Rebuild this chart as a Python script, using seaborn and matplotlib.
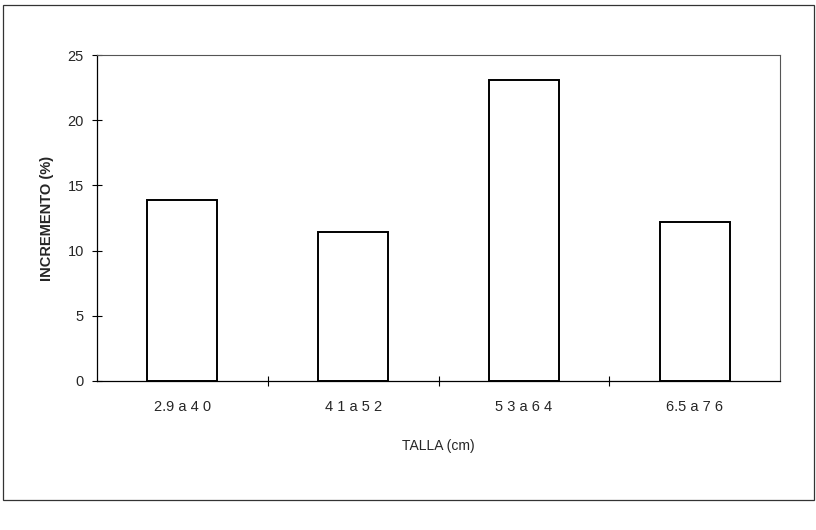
import matplotlib
matplotlib.use("Agg")
import matplotlib.pyplot as plt
import seaborn as sns
import pandas as pd
from matplotlib.patches import Rectangle

# values
tallas = ["2.9 a 4 0", "4 1 a 5 2", "5 3 a 6 4", "6.5 a 7 6"]
incremento = [13.9, 11.4, 23.1, 12.2]
y_ticks = [0, 5, 10, 15, 20, 25]

df = pd.DataFrame({"talla": tallas, "incremento": incremento})

sns.set_style("white")
plt.rcParams["font.family"] = ["Liberation Sans", "DejaVu Sans"]

fig = plt.figure(figsize=(8.16, 5.30), dpi=100)
ax = fig.add_axes([97 / 816, 149 / 530, 683 / 816, 326 / 530])

sns.barplot(data=df, x="talla", y="incremento", ax=ax, color="white",
            edgecolor="black", linewidth=1.4, width=0.41, saturation=1)

ax.set_ylim(0, 25)
ax.set_xlim(-0.5, 3.5)
ax.set_yticks(y_ticks)
ax.set_yticklabels([str(t) for t in y_ticks], fontsize=10.5)
ax.tick_params(axis="y", left=True, direction="inout", length=7, width=0.8,
               pad=6, color="black")

# category ticks sit between bars, like the spreadsheet chart
ax.set_xticks([0.5, 1.5, 2.5], minor=True)
ax.tick_params(axis="x", which="minor", bottom=True, direction="inout",
               length=7, width=0.8, color="black")
ax.tick_params(axis="x", which="major", bottom=False, length=0, pad=14,
               labelsize=10.5)

ax.set_xlabel("TALLA (cm)", fontsize=10, labelpad=18)
ax.set_ylabel("INCREMENTO (%)", fontsize=10.5, fontweight="bold", labelpad=10)

for side in ["left", "bottom"]:
    ax.spines[side].set_color("black")
    ax.spines[side].set_linewidth(0.9)
for side in ["top", "right"]:
    ax.spines[side].set_color("#555555")
    ax.spines[side].set_linewidth(0.8)

# outer chart border
fig.patches.append(Rectangle((3 / 816, 30 / 530), 811 / 816, 495 / 530,
                             transform=fig.transFigure, fill=False,
                             edgecolor="#333333", linewidth=0.9))

fig.savefig("out.png", dpi=100)
